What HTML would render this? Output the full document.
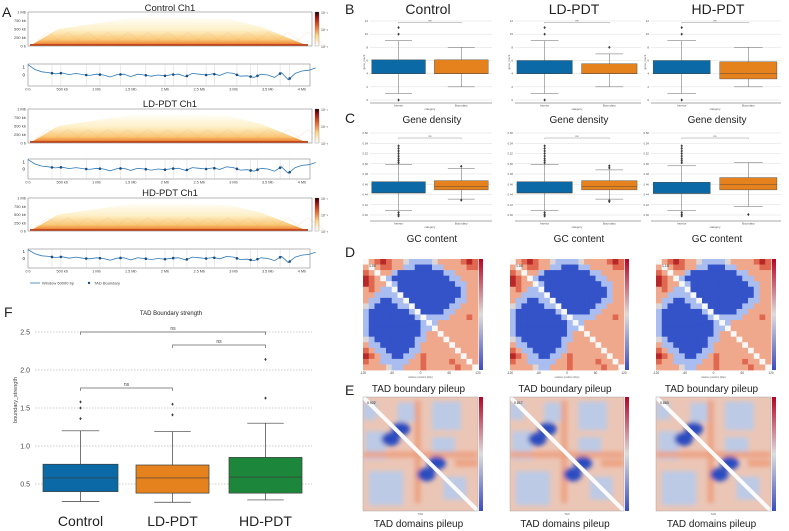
<!DOCTYPE html>
<html><head><meta charset="utf-8"><style>
html,body{margin:0;padding:0;background:#fff;}
svg{display:block;font-family:"Liberation Sans",sans-serif;}
</style></head><body>
<svg id="fig" width="789" height="531" viewBox="0 0 789 531" xmlns="http://www.w3.org/2000/svg">
<defs>
<linearGradient id="hicG" x1="0" y1="0" x2="0" y2="1">
<stop offset="0" stop-color="#fffef8"/><stop offset="0.45" stop-color="#fdf0c8"/><stop offset="0.78" stop-color="#f9c878"/><stop offset="0.92" stop-color="#ee8c3a"/><stop offset="1" stop-color="#b8301a"/></linearGradient>
<linearGradient id="cbHot" x1="0" y1="1" x2="0" y2="0">
<stop offset="0" stop-color="#ffffff"/><stop offset="0.3" stop-color="#fbd88a"/><stop offset="0.6" stop-color="#e8602a"/><stop offset="0.85" stop-color="#9a1010"/><stop offset="1" stop-color="#200000"/></linearGradient>
<linearGradient id="cbCw" x1="0" y1="1" x2="0" y2="0">
<stop offset="0" stop-color="#3b4cc0"/><stop offset="0.5" stop-color="#dddddd"/><stop offset="1" stop-color="#b40426"/></linearGradient>
<filter id="bl" x="-20%" y="-20%" width="140%" height="140%"><feGaussianBlur stdDeviation="2.5"/></filter>
</defs>
<g id="root"></g>
</svg>
<script>
// ---------- data ----------
const trackVals = [1.3,0.7,0.4,0.3,0.15,0.25,0.05,0.2,0.05,-0.05,0.1,0.0,-0.25,0.05,0.1,-0.2,0.1,0.0,-0.15,0.0,-0.1,0.05,0.1,-0.2,0.2,0.1,0.0,0.15,-0.05,0.3,0.2,-0.15,-0.1,-0.3,0.1,0.0,-0.3,0.3,-0.6,0.2,0.5,0.6,0.9];
const boundaryMb = [0.35,0.48,0.85,1.05,1.35,1.72,2.0,2.12,2.32,2.6,2.72,3.05,3.25,3.35,3.68,3.82];
const trackTicks = ["0 b","500 kb","1 Mb","1.5 Mb","2 Mb","2.5 Mb","3 Mb","3.5 Mb","4 Mb"];
const hicYTicks = ["0 b","250 kb","500 kb","750 kb","1 Mb"];

const gdQ1 = [[4,4],[4,4],[4,3.2]];
const gdMed = [[4,4],[4,4],[4,4]];
const gdQ3 = [[6.1,6.1],[6,5.5],[6,5.8]];
const gdLo = [[1,2],[1,2],[1,2]];
const gdHi = [[9,8],[9,7],[9,8]];
const gdOut = [[[10,11,0],[]],[[10,11,0],[8]],[[10,11,0],[]]];

const gcQ1 = [[0.443,0.449],[0.443,0.449],[0.442,0.449]];
const gcMed = [[0.443,0.456],[0.443,0.456],[0.442,0.460]];
const gcQ3 = [[0.465,0.467],[0.465,0.467],[0.464,0.473]];
const gcLo = [[0.409,0.431],[0.409,0.431],[0.409,0.417]];
const gcHi = [[0.499,0.491],[0.499,0.488],[0.496,0.502]];
const gcOut = [[[0.502,0.506,0.51,0.515,0.52,0.525,0.53,0.535,0.405,0.401,0.398],[0.495,0.429]],
               [[0.502,0.506,0.51,0.515,0.52,0.525,0.53,0.535,0.405,0.401,0.398],[0.492,0.496,0.426,0.428]],
               [[0.502,0.506,0.51,0.515,0.52,0.525,0.53,0.535,0.405,0.401,0.398],[0.401]]];

const fCats = ["Control","LD-PDT","HD-PDT"];
const fQ1 = [0.40,0.38,0.38];
const fMed = [0.58,0.58,0.59];
const fQ3 = [0.76,0.75,0.85];
const fLo = [0.27,0.26,0.29];
const fHi = [1.20,1.19,1.30];
const fOut = [[1.36,1.50,1.58],[1.41,1.55],[1.63,2.14]];
const fTicks = [0.5,1.0,1.5,2.0,2.5];

const pileRows = [
"wrRDRrrnbbbbnrrrrRDR","rwrRRrrbbBBBbbrrrrRR","RrwrrbBBBBBBBBbbrrrr","DRrwbBBBBBBBBBBbbrrr",
"DRrrwbBBBBBBBBBBbbrr","rRrbbwBBBBBBBBBBBbrr","rrbbbbwBBBBBBBBBBbrr","rbbBBbbwBBBBBBBBbbrr",
"nbBBBBbbwBBBBBBbbrrr","bBBBBBBBbwBBBBbbrrrr","bBBBBBBBBbwbbbbrrrRr","bBBBBBBBBBbwbrrrrrrr",
"bBBBBBBBBBbbwrrrrrrr","bBBBBBBBBBbrrwrrrrrr","nbBBBBBBBbbrrrwrrrrr","rbbBBBBBBbrrrrrwrrrr",
"RrbbBBBBbbrrrrrrwrrr","DRrbbBBbbrRrrrrrrwrr","RrrbbbbbrrRrrrrRrrwr","rrrrnbbrrrRrrrrrRrrw"];
const pileColors = {w:"#f7f7f7",B:"#3553c8",b:"#a9bdf0",r:"#f0a88c",R:"#e06850",D:"#b82828",n:"#dcd6d6"};

// ---------- helpers ----------
const NS="http://www.w3.org/2000/svg";
const root=document.getElementById('root');
function el(tag,attrs,parent,text){const e=document.createElementNS(NS,tag);for(const k in attrs)e.setAttribute(k,attrs[k]);if(text!==undefined)e.textContent=text;(parent||root).appendChild(e);return e;}
function txt(x,y,s,size,anchor,parent,extra){const t=el('text',Object.assign({x:x,y:y,'font-size':size,'text-anchor':anchor||'start',fill:'#222'},extra||{}),parent,s);return t;}

// ---------- Panel A ----------
const gA=el('g',{});


let lbA=txt(2,17,"A",14,'start',gA);

const rowsA=[{title:"Control Ch1",ty:11,hy:12,hh:34,ty2:64,th:22},{title:"LD-PDT Ch1",ty:107,hy:109,hh:34,ty2:159,th:20},{title:"HD-PDT Ch1",ty:196,hy:198,hh:33,ty2:249,th:19}];
const AX0=28,AX1=312;
function mbX(mb){return 28+mb*68.5;}
rowsA.forEach((r,i)=>{
  const g=el('g',{},gA);
  
  
  const t=txt(170,r.ty,r.title,9.5,'middle',g);
  
  const b=r.hy+r.hh;
  const poly=el('polygon',{points:`${AX0+2},${b} ${AX0+30},${r.hy+r.hh*0.5} ${AX0+110},${r.hy+r.hh*0.15} ${AX0+200},${r.hy+r.hh*0.2} ${AX1-50},${r.hy+r.hh*0.45} ${AX1-4},${b}`,fill:'url(#hicG)'},g);
  
  for(let k=0;k<14;k++){const cx=AX0+20+k*20;el('polyline',{points:`${cx-18},${b} ${cx},${b-r.hh*0.4} ${cx+18},${b}`,fill:'none',stroke:'#f2a050','stroke-width':0.5,opacity:0.35},g);}
  el('rect',{x:AX0+2,y:b-2,width:AX1-AX0-6,height:2,fill:'#c8461c'},g);
  el('rect',{x:AX0,y:r.hy,width:AX1-AX0,height:r.hh,fill:'none',stroke:'#888','stroke-width':0.6},g);
  hicYTicks.forEach((s,k)=>{const y=b-k*r.hh/4;txt(AX0-2,y+1.5,s,4,'end',g,{fill:'#444'});});
  const cb=el('rect',{x:315,y:r.hy,width:4,height:r.hh,fill:'url(#cbHot)',stroke:'#666','stroke-width':0.3},g);
  
  ["10⁻¹","10⁻²","10⁻³"].forEach((s,k)=>txt(321,r.hy+2+k*r.hh/2,s,3.5,'start',g,{fill:'#444'}));
  const y0=r.ty2, h=r.th;
  const ys=v=>y0+h*0.5-v*(h*0.36);
  el('rect',{x:AX0,y:y0,width:282,height:h,fill:'none',stroke:'#888','stroke-width':0.6},g);
  boundaryMb.forEach(m=>el('line',{x1:mbX(m),x2:mbX(m),y1:y0,y2:y0+h,stroke:'#ccc','stroke-width':0.4},g));
  const pts=trackVals.map((v,k)=>`${mbX(k*0.1).toFixed(1)},${ys(v).toFixed(1)}`).join(' ');
  const pl=el('polyline',{points:pts,fill:'none',stroke:'#2f7ab8','stroke-width':0.8},g);
  
  boundaryMb.forEach(m=>{const f=m/0.1,k=Math.floor(f),v=trackVals[k]+(trackVals[k+1]-trackVals[k])*(f-k);
    const d=el('circle',{cx:mbX(m),cy:ys(v),r:1.3,fill:'#1a4f80'},g);
    });
  txt(AX0-3,ys(1)+1.5,"1",4.5,'end',g);txt(AX0-3,ys(0)+1.5,"0",4.5,'end',g);
  trackTicks.forEach((s,k)=>txt(mbX(k*0.5),y0+h+4.5,s,3.8,'middle',g,{fill:'#444'}));
});
const lg=el('g',{},gA);

el('line',{x1:30,x2:40,y1:283,y2:283,stroke:'#2f7ab8','stroke-width':0.8},lg);
txt(42,284.5,"Window 60000 bp",4,'start',lg,{fill:'#444'});
el('circle',{cx:89,cy:283,r:1.2,fill:'#1a4f80'},lg);
txt(94,284.5,"TAD Boundary",4,'start',lg,{fill:'#444'});

// ---------- Panels B/C ----------
const blue="#0b6aa5", orange="#e6821e", green="#1c873a";
const subs=[{name:"Control",L:364,W:128,tx:428},{name:"LD-PDT",L:509,W:132,tx:574},{name:"HD-PDT",L:645,W:136,tx:718}];
function boxplot(g,cx,bw,ys,q1,med,q3,lo,hi,outs,col,sw){
  const bx=el('rect',{x:cx-bw/2,y:ys(q3),width:bw,height:ys(q1)-ys(q3),fill:col,stroke:'#3d3d3d','stroke-width':sw},g);
  
  el('line',{x1:cx-bw/2,x2:cx+bw/2,y1:ys(med),y2:ys(med),stroke:'#3d3d3d','stroke-width':sw},g);
  el('line',{x1:cx,x2:cx,y1:ys(q3),y2:ys(hi),stroke:'#3d3d3d','stroke-width':sw},g);
  el('line',{x1:cx,x2:cx,y1:ys(q1),y2:ys(lo),stroke:'#3d3d3d','stroke-width':sw},g);
  el('line',{x1:cx-bw/4,x2:cx+bw/4,y1:ys(hi),y2:ys(hi),stroke:'#3d3d3d','stroke-width':sw},g);
  el('line',{x1:cx-bw/4,x2:cx+bw/4,y1:ys(lo),y2:ys(lo),stroke:'#3d3d3d','stroke-width':sw},g);
  outs.forEach(o=>{const c=el('path',{d:`M${cx},${ys(o)-1.6}L${cx+1.2},${ys(o)}L${cx},${ys(o)+1.6}L${cx-1.2},${ys(o)}Z`,fill:'#3d3d3d'},g);
    });
}
let lbB=txt(345,14,"B",14,'start');
let lbC=txt(345,123,"C",14,'start');
subs.forEach((s,i)=>{
  const t=txt(s.tx,14,s.name,14,'middle');
  
  const g=el('g',{});
  
  const yA=v=>100-v*(79/12);
  for(let v=0;v<=12;v+=2){el('line',{x1:s.L+6,x2:s.L+s.W,y1:yA(v),y2:yA(v),stroke:'#ddd','stroke-width':0.5},g);txt(s.L+4,yA(v)+1,String(v),3,'end',g,{fill:'#555'});}
  el('line',{x1:s.L+6,x2:s.L+s.W,y1:103,y2:103,stroke:'#555','stroke-width':0.5},g);
  const c0=s.L+s.W*0.27,c1=s.L+s.W*0.76,bw=s.W*0.42;
  [c0,c1].forEach((cx,k)=>boxplot(g,cx,bw,yA,gdQ1[i][k],gdMed[i][k],gdQ3[i][k],gdLo[i][k],gdHi[i][k],gdOut[i][k],k?orange:blue,0.4));
  el('polyline',{points:`${c0},${yA(11.8)+1} ${c0},${yA(11.8)} ${c1},${yA(11.8)} ${c1},${yA(11.8)+1}`,fill:'none',stroke:'#777','stroke-width':0.4},g);
  txt((c0+c1)/2,yA(11.8)-1,"ns",3,'middle',g,{fill:'#555'});
  txt(c0,106.5,"Interior",3,'middle',g,{fill:'#555'});txt(c1,106.5,"Boundary",3,'middle',g,{fill:'#555'});
  txt((c0+c1)/2,110,"category",2.8,'middle',g,{fill:'#555'});
  txt(s.L+1,62,"gene_count",2.8,'middle',g,{fill:'#555',transform:`rotate(-90 ${s.L+1} 62)`});
  const gt=txt((c0+c1)/2+2,123,"Gene density",10,'middle');
  
  const g2=el('g',{});
  
  const yC=v=>215-(v-0.40)*(82/0.16);
  for(let v=0.40;v<=0.5601;v+=0.02){el('line',{x1:s.L+6,x2:s.L+s.W,y1:yC(v),y2:yC(v),stroke:'#ddd','stroke-width':0.5},g2);txt(s.L+4,yC(v)+1,v.toFixed(2),2.8,'end',g2,{fill:'#555'});}
  el('line',{x1:s.L+6,x2:s.L+s.W,y1:221,y2:221,stroke:'#555','stroke-width':0.5},g2);
  [c0,c1].forEach((cx,k)=>boxplot(g2,cx,bw,yC,gcQ1[i][k],gcMed[i][k],gcQ3[i][k],gcLo[i][k],gcHi[i][k],gcOut[i][k],k?orange:blue,0.4));
  el('polyline',{points:`${c0},${139} ${c0},${138} ${c1},${138} ${c1},${139}`,fill:'none',stroke:'#777','stroke-width':0.4},g2);
  txt((c0+c1)/2,137,"ns",3,'middle',g2,{fill:'#555'});
  txt(c0,224.5,"Interior",3,'middle',g2,{fill:'#555'});txt(c1,224.5,"Boundary",3,'middle',g2,{fill:'#555'});
  txt((c0+c1)/2,228,"category",2.8,'middle',g2,{fill:'#555'});
  const ct=txt((c0+c1)/2+2,242,"GC content",10,'middle');
  
});

// ---------- Panel D/E ----------
const heat=[{x:363,w:115},{x:510,w:114},{x:656,w:115}];
let lbD=txt(345,257,"D",14,'start');
let lbE=txt(345,395,"E",14,'start');
const pileVals=["1.00","1.00","1.15"], domVals=["0.922","0.817","0.863"];
heat.forEach((h,i)=>{
  const g=el('g',{});
  
  const y0=259,H=111,n=20,cw=h.w/n,chh=H/n;
  pileRows.forEach((row,r)=>{for(let c=0;c<n;c++){const ch=row.charAt(c)||'r';
    el('rect',{x:(h.x+c*cw).toFixed(2),y:(y0+r*chh).toFixed(2),width:(cw+0.4).toFixed(2),height:(chh+0.4).toFixed(2),fill:pileColors[ch]},g);}});
  txt(h.x+6,y0+8,pileVals[i],3.5,'start',g);
  el('rect',{x:h.x+h.w+1,y:y0,width:4,height:H,fill:'url(#cbCw)'},g);
  ["-120","-60","0","60","120"].forEach((s,k)=>txt(h.x+k*h.w/4,y0+H+4,s,3.2,'middle',g,{fill:'#444'}));
  txt(h.x+h.w/2,y0+H+8,"relative position (kbp)",2.6,'middle',g,{fill:'#666'});
  const tt=txt(h.x+h.w/2-2,y0+H+22,"TAD boundary pileup",10,'middle');
  
  const g2=el('g',{});
  
  const Y=397,W=h.w,HH=114,X=h.x;
  const cp=el('clipPath',{id:'cp'+i},g2);el('rect',{x:X,y:Y,width:W,height:HH},cp);
  const inner=el('g',{'clip-path':`url(#cp${i})`},g2);
  el('rect',{x:X,y:Y,width:W,height:HH,fill:'#ebc6b6'},inner);
  const bl=el('g',{filter:'url(#bl)'},inner);
  [[0.3,0.05,0.2,0.17],[0.6,0.04,0.25,0.25],[0.02,0.3,0.18,0.25],[0.6,0.35,0.2,0.15],[0.05,0.65,0.3,0.3],[0.7,0.7,0.2,0.2],[0.0,0.05,0.12,0.15]].forEach(q=>
    el('rect',{x:X+q[0]*W,y:Y+q[1]*HH,width:q[2]*W,height:q[3]*HH,fill:'#bccae6'},bl));
  [[0.45,0.03,0.05,0.9],[0.0,0.48,1,0.05],[0.8,0.55,0.2,0.06]].forEach(q=>
    el('rect',{x:X+q[0]*W,y:Y+q[1]*HH,width:q[2]*W,height:q[3]*HH,fill:'#eda080'},bl));
  [[0.33,0.28],[0.24,0.37],[0.64,0.58],[0.55,0.68]].forEach(q=>
    el('ellipse',{cx:X+q[0]*W,cy:Y+q[1]*HH,rx:W*0.08,ry:HH*0.06,fill:'#2c4cc0'},bl));
  el('line',{x1:X,y1:Y,x2:X+W,y2:Y+HH,stroke:'#fafafa','stroke-width':4},inner);
  el('rect',{x:X,y:Y,width:W,height:HH,fill:'none',stroke:'#999','stroke-width':0.4},g2);
  txt(X+4,Y+7,domVals[i],3.5,'start',g2);
  el('rect',{x:X+W+1,y:Y,width:4,height:HH,fill:'url(#cbCw)'},g2);
  txt(X+W/2,Y+HH+4,"TAD",2.8,'middle',g2,{fill:'#666'});
  const dt=txt(X+W/2-2,Y+HH+16,"TAD domains pileup",10,'middle');
  
});

// ---------- Panel F ----------
const gF=el('g',{});

let lbF=txt(4,317,"F",14,'start',gF);
const fTitle=txt(171,315,"TAD Boundary strength",6,'middle',gF);

const fy=v=>484-(v-0.5)*76;
fTicks.forEach(v=>{
  const gl=el('line',{x1:35,x2:312,y1:fy(v),y2:fy(v),stroke:'#999','stroke-width':0.6,'stroke-dasharray':'1.5,1.5'},gF);
  
  const tl=txt(30,fy(v)+2.5,v.toFixed(1),7,'end',gF,{fill:'#444'});
  
});
const yl=txt(17,400,"boundary_strength",5.5,'middle',gF,{fill:'#444',transform:'rotate(-90 17 400)'});

const fCx=[80.5,172.5,265.5], fBw=[75,73,73], fCol=[blue,orange,green];
fCats.forEach((c,i)=>{
  boxplot(gF,fCx[i],fBw[i],fy,fQ1[i],fMed[i],fQ3[i],fLo[i],fHi[i],fOut[i],fCol[i],0.7);
  const xl=txt(fCx[i],526,c,14,'middle',gF);
  
});
[[0,2,332],[1,2,345],[0,1,388]].forEach(b=>{
  const br=el('polyline',{points:`${fCx[b[0]]},${b[2]+3} ${fCx[b[0]]},${b[2]} ${fCx[b[1]]},${b[2]} ${fCx[b[1]]},${b[2]+3}`,fill:'none',stroke:'#666','stroke-width':0.7},gF);
  
  txt((fCx[b[0]]+fCx[b[1]])/2,b[2]-2,"ns",5,'middle',gF,{fill:'#444'});
});
</script>
</body></html>
